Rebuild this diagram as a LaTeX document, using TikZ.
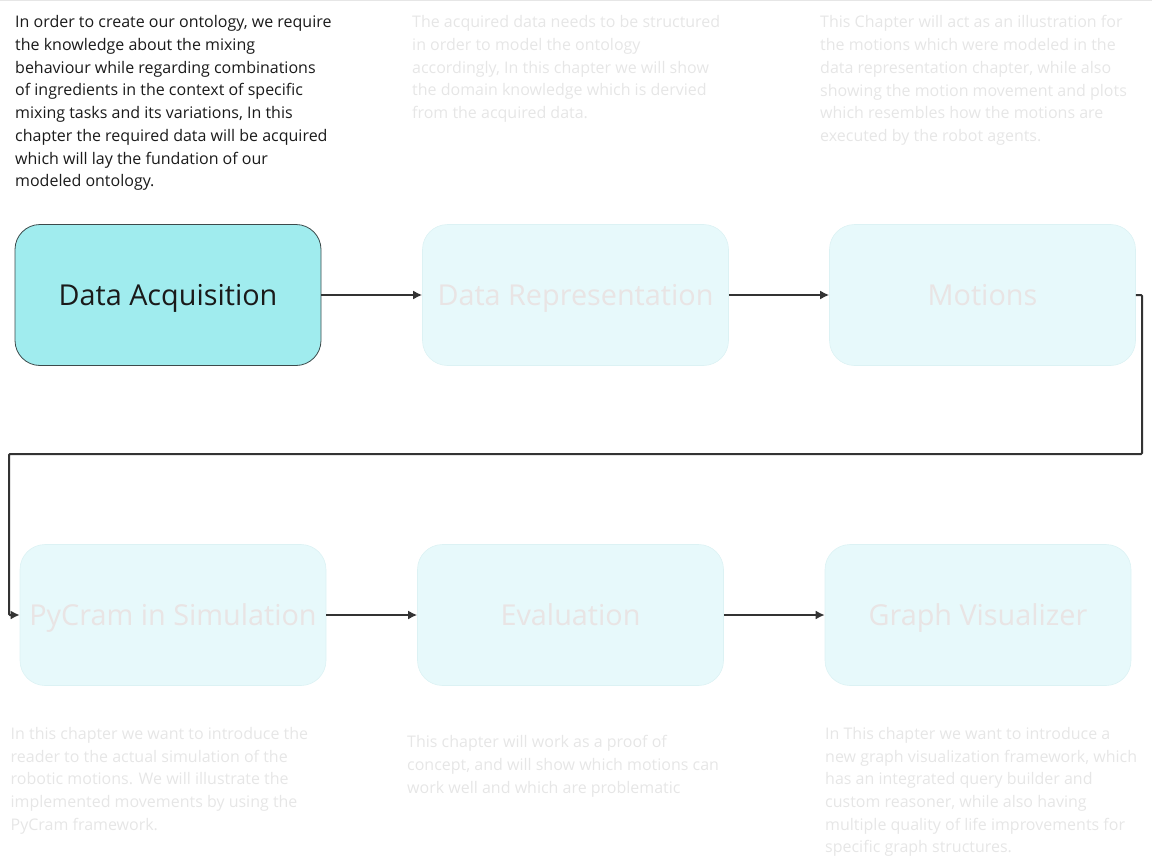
\documentclass[tikz,border=0pt]{standalone}
\usepackage{fontspec}
\setmainfont{Open Sans}
\usetikzlibrary{arrows.meta}

\definecolor{acqfill}{HTML}{A0ECEE}
\definecolor{acqline}{HTML}{3C4A4B}
\definecolor{palefill}{HTML}{E7F9FB}
\definecolor{paleline}{HTML}{DCF2F4}
\definecolor{paletext}{HTML}{E9E4E4}
\definecolor{notegray}{HTML}{E6E6E6}
\definecolor{inkdark}{HTML}{1A1A1A}
\definecolor{arrowgray}{HTML}{333333}

\begin{document}
\begin{tikzpicture}[x=1pt,y=-1pt,
  chapter/.style={rounded corners=25pt,minimum width=306pt,minimum height=141pt,
    inner sep=0pt,text height=20.5pt,text depth=0pt,font=\fontsize{28.8}{34}\selectfont},
  current/.style={chapter,fill=acqfill,draw=acqline,line width=0.8pt,text=inkdark},
  later/.style={chapter,fill=palefill,draw=paleline,line width=0.6pt,text=paletext},
  note/.style={anchor=north west,inner sep=0pt,align=left,font=\fontsize{16}{22.7}\selectfont},
  flow/.style={draw=arrowgray,line width=2pt,-{Latex[length=9pt,width=9pt]}}]
\useasboundingbox (0,0) rectangle (1152,867);
\draw[notegray,line width=0.8pt] (0,0.5) -- (1152,0.5);

\node[current] (acq) at (168,295) {Data Acquisition};
\node[later] (repr) at (575.5,295) {Data Representation};
\node[later] (mot) at (982.5,295) {Motions};
\node[later] (pycram) at (173,615) {PyCram in Simulation};
\node[later] (eval) at (570.5,615) {Evaluation};
\node[later] (graph) at (978,615) {Graph Visualizer};

\node[note,text=inkdark] (acqnote) at (15,15.5) {In order to create our ontology, we require\\
the knowledge about the mixing\\
behaviour while regarding combinations\\
of ingredients in the context of specific\\
mixing tasks and its variations, In this\\
chapter the required data will be acquired\\
which will lay the fundation of our\\
modeled ontology.};
\node[note,text=notegray] (reprnote) at (412,15.5) {The acquired data needs to be structured\\
in order to model the ontology\\
accordingly, In this chapter we will show\\
the domain knowledge which is dervied\\
from the acquired data.};
\node[note,text=notegray] (motnote) at (820,15.5) {This Chapter will act as an illustration for\\
the motions which were modeled in the\\
data representation chapter, while also\\
showing the motion movement and plots\\
which resembles how the motions are\\
executed by the robot agents.};
\node[note,text=notegray] (pycramnote) at (10.5,727) {In this chapter we want to introduce the\\
reader to the actual simulation of the\\
robotic motions. We will illustrate the\\
implemented movements by using the\\
PyCram framework.};
\node[note,text=notegray] (evalnote) at (407,735.5) {This chapter will work as a proof of\\
concept, and will show which motions can\\
work well and which are problematic};
\node[note,text=notegray] (graphnote) at (825,727) {In This chapter we want to introduce a\\
new graph visualization framework, which\\
has an integrated query builder and\\
custom reasoner, while also having\\
multiple quality of life improvements for\\
specific graph structures.};

\coordinate (turnR) at (1142,454);
\coordinate (turnL) at (9,454);

\draw[flow] (acq) -- (repr);
\draw[flow] (repr) -- (mot);
\draw[flow,rounded corners=1pt] (mot.east) -| (turnR) -- (turnL) |- (pycram.west);
\draw[flow] (pycram) -- (eval);
\draw[flow] (eval) -- (graph);
\end{tikzpicture}
\end{document}
